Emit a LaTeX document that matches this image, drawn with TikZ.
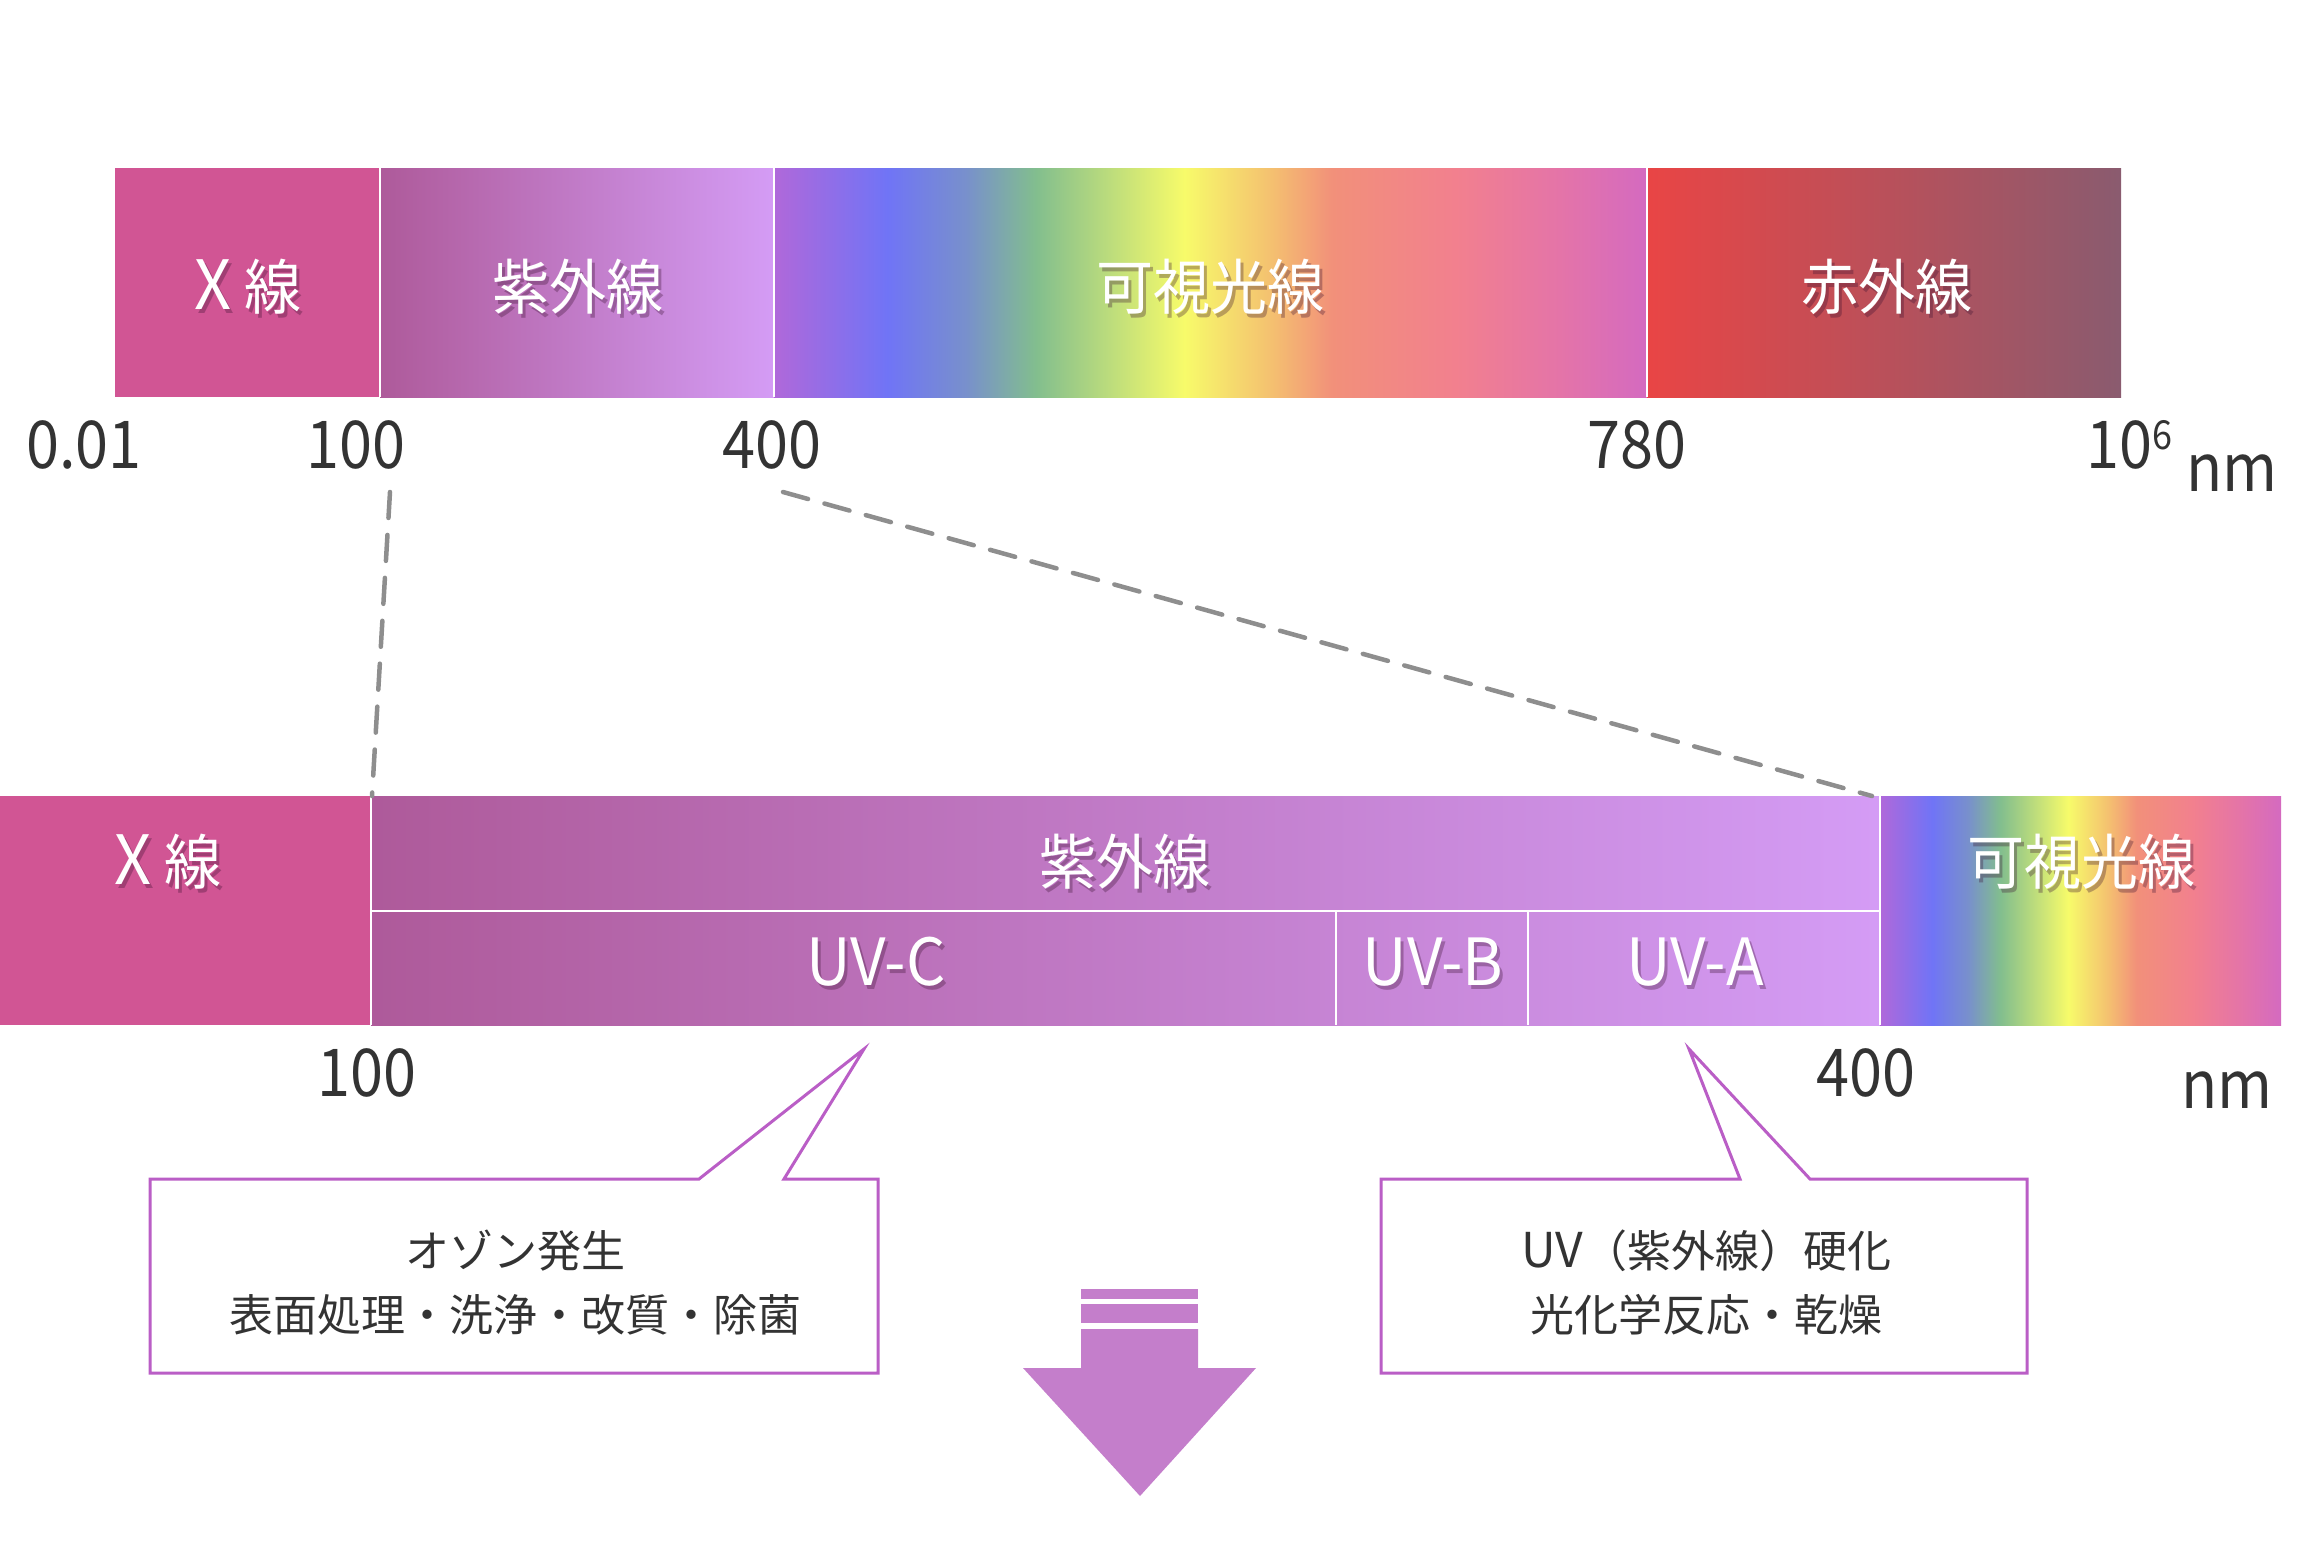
\documentclass[tikz,border=0pt]{standalone}
\usepackage{fontspec}
\setmainfont{Noto Sans CJK JP}
\newfontfamily\lblfont[FakeStretch=0.95]{Noto Sans CJK JP}
\newfontfamily\numfont[FakeStretch=0.9]{Noto Sans CJK JP}
\usetikzlibrary{calc}

\definecolor{xray}{HTML}{D15594}
\definecolor{uvL}{HTML}{AE5A9A}
\definecolor{uvR}{HTML}{D49CF5}
\definecolor{irL}{HTML}{E94545}
\definecolor{irR}{HTML}{8A5B6F}
\definecolor{v0}{HTML}{B068DA}
\definecolor{v1}{HTML}{7074F6}
\definecolor{v2}{HTML}{7890CC}
\definecolor{v3}{HTML}{82BE8E}
\definecolor{v4}{HTML}{F7FB6A}
\definecolor{v5}{HTML}{F4C070}
\definecolor{v6}{HTML}{F2907A}
\definecolor{v7}{HTML}{F2808E}
\definecolor{v8}{HTML}{E474A8}
\definecolor{v9}{HTML}{D46AC0}
\definecolor{numgray}{HTML}{333333}
\definecolor{dashgray}{HTML}{8E8E8E}
\definecolor{calloutc}{HTML}{BA5EC6}
\definecolor{arrowc}{HTML}{C47ECB}
\definecolor{shadowc}{HTML}{3A1030}

\pgfdeclarehorizontalshading{visible}{100bp}{color(0bp)=(v0); color(25bp)=(v0); color(31.5bp)=(v1); color(36bp)=(v2); color(40bp)=(v3); color(48.5bp)=(v4); color(53.5bp)=(v5); color(57bp)=(v6); color(64bp)=(v7); color(70bp)=(v8); color(75bp)=(v9); color(100bp)=(v9)}

\newcommand\shadowlabel[3]{%
  \node[lblsh, xshift=3pt, yshift=-4pt] at (#2) {#3};
  \node[lbl] (#1) at (#2) {#3};
}

\begin{document}
\begin{tikzpicture}[x=1pt,y=-1pt,
  lbl/.style={font=\lblfont\fontsize{60}{60}\selectfont, text=white, inner sep=0pt, anchor=base},
  lblsh/.style={lbl, text=shadowc, opacity=0.32},
  num/.style={font=\numfont\fontsize{66}{66}\selectfont, text=numgray, inner sep=0pt, anchor=base},
  ctext/.style={font=\fontsize{44}{44}\selectfont, text=numgray, inner sep=0pt, anchor=base},
  divider/.style={draw=white, line width=2pt},
  zoomline/.style={draw=dashgray, line width=4.5pt, dash pattern=on 26pt off 17pt, line cap=round},
  callout/.style={draw=calloutc, line width=3pt, fill=white, line join=miter},
  arrowfill/.style={fill=arrowc},
]
\useasboundingbox (0,0) rectangle (2320,1550);

% ---------- top spectrum bar ----------
\fill[xray] (115,168) rectangle (380,397);
\shade[left color=uvL, right color=uvR] (380,168) rectangle (774,397);
\shade[shading=visible] (774,168) rectangle (1647,397);
\shade[left color=irL, right color=irR] (1647,168) rectangle (2121,397);
\draw[divider] (380,168) -- (380,397);
\draw[divider] (774,168) -- (774,397);
\draw[divider] (1647,168) -- (1647,397);

\shadowlabel{tx}{248,309}{{\fontsize{68}{68}\selectfont X} 線}
\shadowlabel{tuv}{578,309}{紫外線}
\shadowlabel{tvis}{1210,309}{可視光線}
\shadowlabel{tir}{1887,309}{赤外線}

\node[num] (n001) at (84,468) {0.01};
\node[num] (n100) at (356,468) {100};
\node[num] (n400) at (772,468) {400};
\node[num] (n780) at (1637,468) {780};
\node[num] (n1e6) at (2129,468) {10\raisebox{19pt}{\fontsize{40}{40}\selectfont 6}};
\node[num] (nnm) at (2232,491) {nm};

% ---------- bottom (zoomed) bar ----------
\fill[xray] (0,796) rectangle (371,1025);
\shade[left color=uvL, right color=uvR] (371,796) rectangle (1880,1025);
\shade[shading=visible] (1880,796) rectangle (2281,1025);
\draw[divider] (371,796) -- (371,1025);
\draw[divider] (1880,796) -- (1880,1025);
\draw[divider] (371,911) -- (1880,911);
\draw[divider] (1336,911) -- (1336,1025);
\draw[divider] (1528,911) -- (1528,1025);

\shadowlabel{bx}{168,884}{{\fontsize{68}{68}\selectfont X} 線}
\shadowlabel{buv}{1125,884}{紫外線}
\shadowlabel{bvis}{2081,884}{可視光線}
\shadowlabel{buvc}{876,985}{\fontsize{65}{65}\selectfont UV-C}
\shadowlabel{buvb}{1433,985}{\fontsize{65}{65}\selectfont UV-B}
\shadowlabel{buva}{1695,985}{\fontsize{65}{65}\selectfont UV-A}

\node[num] (m100) at (367,1096) {100};
\node[num] (m400) at (1866,1096) {400};
\node[num] (mnm) at (2227,1108) {nm};

% ---------- zoom lines ----------
\coordinate (za1) at (390,492);
\coordinate (za2) at (372,796);
\coordinate (zb1) at (783,492);
\coordinate (zb2) at (1872,796);
\draw[zoomline] (za1) -- (za2);
\draw[zoomline] (zb1) -- (zb2);

% ---------- callouts ----------
\draw[callout] (150,1179) -- (699,1179) -- (864,1049) -- (784,1179) -- (878,1179) -- (878,1373) -- (150,1373) -- cycle;
\node[ctext] (c1a) at (515,1267) {オゾン発生};
\node[ctext] (c1b) at (515,1331) {表面処理・洗浄・改質・除菌};

\draw[callout] (1381,1179) -- (1740,1179) -- (1689,1049) -- (1810,1179) -- (2027,1179) -- (2027,1373) -- (1381,1373) -- cycle;
\node[ctext] (c2a) at (1706,1267) {{\fontsize{48}{48}\selectfont UV}（紫外線）硬化};
\node[ctext] (c2b) at (1706,1331) {光化学反応・乾燥};

% ---------- down arrow ----------
\fill[arrowfill] (1081,1289) rectangle (1198,1299);
\fill[arrowfill] (1081,1304) rectangle (1198,1323);
\fill[arrowfill] (1081,1329) -- (1198,1329) -- (1198,1368) -- (1256,1368) -- (1140,1496) -- (1023,1368) -- (1081,1368) -- cycle;
\end{tikzpicture}
\end{document}
